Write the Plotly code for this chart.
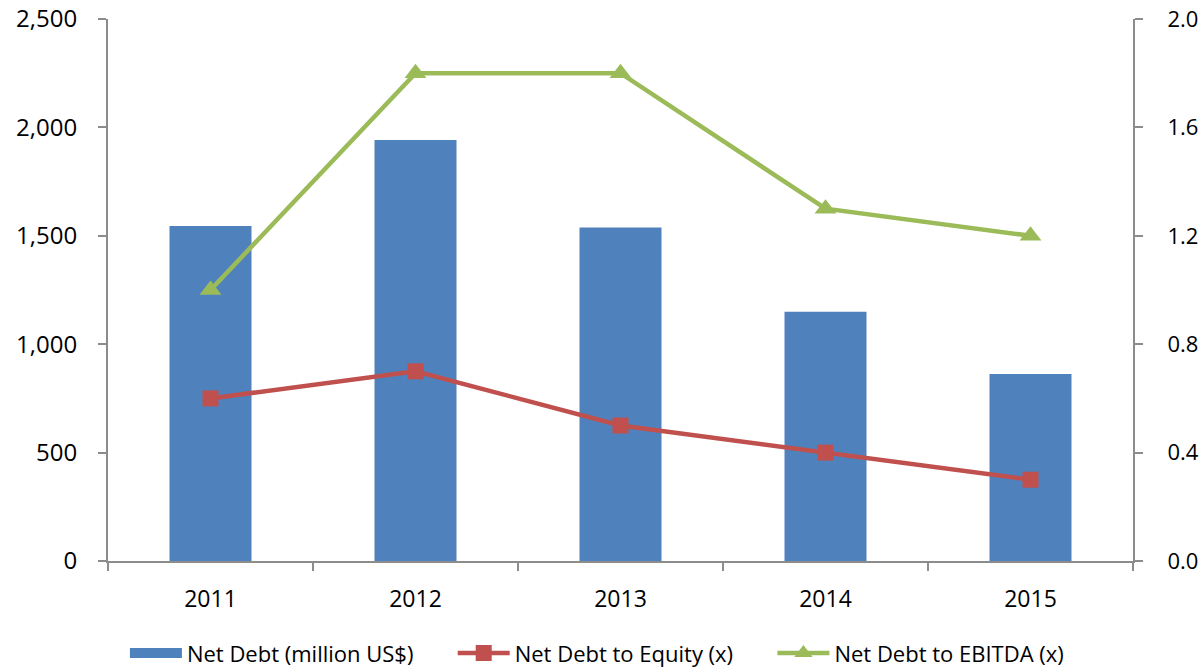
import plotly.graph_objects as go

anos = ["2011", "2012", "2013", "2014", "2015"]
divida_liquida = [1545, 1942, 1538, 1150, 862]
divida_patrimonio = [0.6, 0.7, 0.5, 0.4, 0.3]
divida_ebitda = [1.0, 1.8, 1.8, 1.3, 1.2]

FONTE = "Open Sans"
COR_EIXO = "#8c8c8c"
AZUL, VERMELHO, VERDE = "#4F81BD", "#C0504D", "#9BBB59"
ESPACO = "\u00a0" * 6  # afasta os itens da legenda

fig = go.Figure()

fig.add_trace(go.Bar(
    x=anos, y=divida_liquida, name="Net Debt (million US$)",
    marker=dict(color=AZUL, line=dict(width=0)),
    width=0.4, showlegend=False,
))
# entrada de legenda retangular para as barras
fig.add_trace(go.Scatter(
    x=[None], y=[None], name="Net Debt (million US$)" + ESPACO, mode="lines",
    line=dict(color=AZUL, width=15), hoverinfo="skip",
))
fig.add_trace(go.Scatter(
    x=anos, y=divida_patrimonio, name="Net Debt to Equity (x)" + ESPACO, yaxis="y2",
    mode="lines+markers",
    line=dict(color=VERMELHO, width=4.5),
    marker=dict(symbol="square", size=16, color=VERMELHO),
))
fig.add_trace(go.Scatter(
    x=anos, y=divida_ebitda, name="Net Debt to EBITDA (x)", yaxis="y2",
    mode="lines+markers",
    line=dict(color=VERDE, width=4.5),
    marker=dict(symbol="triangle-up", size=19, color=VERDE),
))

eixo_comum = dict(
    showline=True, linecolor=COR_EIXO, linewidth=2,
    ticks="outside", ticklen=8, tickcolor=COR_EIXO, tickwidth=2,
    showgrid=False, zeroline=False, automargin=False,
)

fig.update_layout(
    width=1202, height=671,
    paper_bgcolor="white", plot_bgcolor="white",
    font=dict(family=FONTE, color="black"),
    margin=dict(l=108, r=69, t=19, b=110, autoexpand=False),
    xaxis=dict(
        type="category", tickson="boundaries",
        tickfont=dict(size=23), ticklabelstandoff=16, **eixo_comum,
    ),
    yaxis=dict(
        range=[0, 2500], tickvals=[0, 500, 1000, 1500, 2000, 2500],
        tickformat=",", tickfont=dict(size=24), ticklabelstandoff=16, **eixo_comum,
    ),
    yaxis2=dict(
        range=[0, 2.0], tickvals=[0, 0.4, 0.8, 1.2, 1.6, 2.0], tickformat=".1f",
        overlaying="y", side="right",
        tickfont=dict(size=22), ticklabelstandoff=20, **eixo_comum,
    ),
    legend=dict(
        orientation="h", x=0.477, xanchor="center", y=-0.17, yanchor="middle",
        font=dict(size=22), itemwidth=52, traceorder="normal",
    ),
    showlegend=True,
)

# remove a margem padrão do <body> para o gráfico ficar alinhado ao canto
fig.write_html(
    "out.html",
    config={"displayModeBar": False},
    post_script="document.body.style.margin='0';",
)
